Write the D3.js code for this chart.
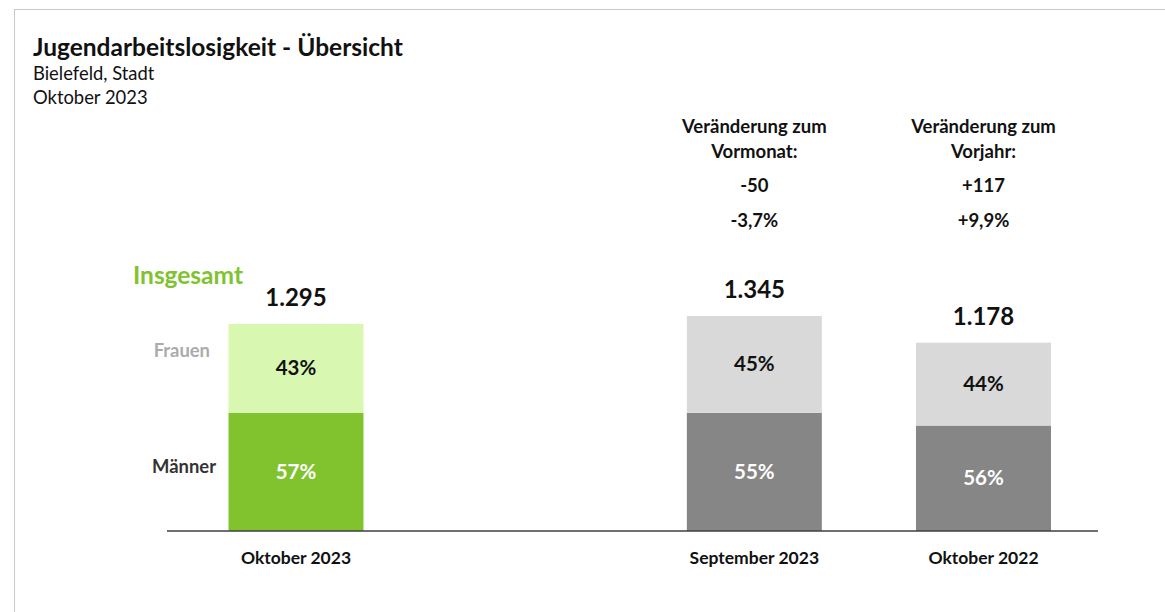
<!DOCTYPE html>
<meta charset="utf-8">
<head>
<script src="https://cdn.jsdelivr.net/npm/d3@7"></script>
<style>
body { margin: 0; background: #fff; }
text { font-family: Lato, "Noto Sans", sans-serif; }
.title { font-size: 24.5px; font-weight: bold; fill: #111; }
.sub { font-size: 18.4px; fill: #111; }
.head { font-size: 18.5px; font-weight: bold; fill: #111; }
.total { font-size: 24px; font-weight: bold; fill: #111; }
.pct { font-size: 20.5px; font-weight: bold; }
.cat { font-size: 17.5px; font-weight: bold; fill: #111; }
</style>
</head>
<body>
<script>

// Daten
var categories = ["Oktober 2023", "", "September 2023", "Oktober 2022"];
var totals = [1295, null, 1345, 1178];
var maenner = [57, null, 55, 56];
var frauen = [43, null, 45, 44];
var totalLabels = ["1.295", "", "1.345", "1.178"];

var changeHeads = [["Veränderung zum", "Vormonat:"], ["Veränderung zum", "Vorjahr:"]];
var changeAbs = ["-50", "+117"];
var changePct = ["-3,7%", "+9,9%"];
var changeCats = ["September 2023", "Oktober 2022"];

var width = 1165, height = 612;

var svg = d3.select("body").append("svg")
    .attr("width", width)
    .attr("height", height);

// Rahmen
svg.append("rect")
    .attr("x", 14.5).attr("y", 9.5)
    .attr("width", 1300).attr("height", 800)
    .attr("fill", "none")
    .attr("stroke", "#c9c9c9");

svg.append("text").attr("class", "title").attr("x", 33).attr("y", 56)
    .text("Jugendarbeitslosigkeit - Übersicht");
svg.append("text").attr("class", "sub").attr("x", 33).attr("y", 80).text("Bielefeld, Stadt");
svg.append("text").attr("class", "sub").attr("x", 33).attr("y", 104).text("Oktober 2023");

var x = d3.scaleBand()
    .domain(categories)
    .range([228.5, 1051])
    .paddingInner(0.411)
    .paddingOuter(0);

var y = d3.scaleLinear()
    .domain([0, d3.max(totals)])
    .range([531, 316]);

var rows = categories.map(function(c, i) {
  return {cat: c, total: totals[i], m: maenner[i], f: frauen[i], label: totalLabels[i], first: i === 0};
}).filter(function(d) { return d.total !== null; });

var g = svg.selectAll("g.bar").data(rows).enter().append("g").attr("class", "bar");

// Männer
g.append("rect")
    .attr("x", function(d) { return x(d.cat); })
    .attr("width", x.bandwidth())
    .attr("y", function(d) { return y(d.total * d.m / 100); })
    .attr("height", function(d) { return y(0) - y(d.total * d.m / 100); })
    .attr("fill", function(d) { return d.first ? "#80c32f" : "#868686"; });

// Frauen
g.append("rect")
    .attr("x", function(d) { return x(d.cat); })
    .attr("width", x.bandwidth())
    .attr("y", function(d) { return y(d.total); })
    .attr("height", function(d) { return y(d.total * d.m / 100) - y(d.total); })
    .attr("fill", function(d) { return d.first ? "#d8f8b1" : "#d9d9d9"; });

g.append("text").attr("class", "pct")
    .attr("text-anchor", "middle")
    .attr("x", function(d) { return x(d.cat) + x.bandwidth() / 2; })
    .attr("y", function(d) { return (y(0) + y(d.total * d.m / 100)) / 2 + 7; })
    .attr("fill", "#fff")
    .text(function(d) { return d.m + "%"; });

g.append("text").attr("class", "pct")
    .attr("text-anchor", "middle")
    .attr("x", function(d) { return x(d.cat) + x.bandwidth() / 2; })
    .attr("y", function(d) { return (y(d.total) + y(d.total * d.m / 100)) / 2 + 7; })
    .attr("fill", "#111")
    .text(function(d) { return d.f + "%"; });

g.append("text").attr("class", "total")
    .attr("text-anchor", "middle")
    .attr("x", function(d) { return x(d.cat) + x.bandwidth() / 2; })
    .attr("y", function(d) { return y(d.total) - 18; })
    .text(function(d) { return d.label; });

// Basislinie
svg.append("line")
    .attr("x1", 167).attr("x2", 1098)
    .attr("y1", 531).attr("y2", 531)
    .attr("stroke", "#3f3f3f")
    .attr("stroke-width", 1.5);

// Kategorien
svg.selectAll("text.cat").data(rows).enter().append("text")
    .attr("class", "cat")
    .attr("text-anchor", "middle")
    .attr("x", function(d) { return x(d.cat) + x.bandwidth() / 2; })
    .attr("y", 564)
    .text(function(d) { return d.cat; });

// Legende links
var first = rows[0];
svg.append("text")
    .attr("x", 133).attr("y", 284)
    .attr("fill", "#80c32f")
    .style("font-size", "24.5px").style("font-weight", "bold")
    .text("Insgesamt");
svg.append("text")
    .attr("x", 210).attr("y", (y(first.total) + y(first.total * first.m / 100)) / 2 - 11)
    .attr("text-anchor", "end")
    .attr("fill", "#ababab")
    .style("font-size", "18.4px").style("font-weight", "bold")
    .text("Frauen");
svg.append("text")
    .attr("x", 216).attr("y", (y(0) + y(first.total * first.m / 100)) / 2 + 1)
    .attr("text-anchor", "end")
    .attr("fill", "#333")
    .style("font-size", "18.4px").style("font-weight", "bold")
    .text("Männer");

// Veränderungen
changeCats.forEach(function(c, i) {
  var cx = x(c) + x.bandwidth() / 2;
  var t = svg.append("g");
  t.append("text").attr("class", "head").attr("text-anchor", "middle")
      .attr("x", cx).attr("y", 133).text(changeHeads[i][0]);
  t.append("text").attr("class", "head").attr("text-anchor", "middle")
      .attr("x", cx).attr("y", 158).text(changeHeads[i][1]);
  t.append("text").attr("class", "head").attr("text-anchor", "middle")
      .attr("x", cx).attr("y", 192).text(changeAbs[i]);
  t.append("text").attr("class", "head").attr("text-anchor", "middle")
      .attr("x", cx).attr("y", 227).text(changePct[i]);
});

</script>
</body>
